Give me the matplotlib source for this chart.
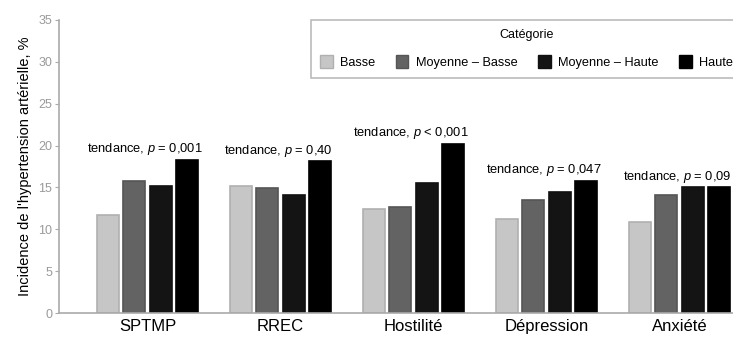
"""Incidence de l'hypertension artérielle par catégorie (barres groupées)."""

import numpy as np
import matplotlib
matplotlib.use('Agg')
import matplotlib.pyplot as plt
from matplotlib.patches import Patch

plt.rcParams['font.family'] = ['Liberation Sans', 'DejaVu Sans']
plt.rcParams['mathtext.fontset'] = 'custom'
plt.rcParams['mathtext.it'] = 'Liberation Sans:italic'
plt.rcParams['mathtext.rm'] = 'Liberation Sans'

GROUPS = ['SPTMP', 'RREC', 'Hostilité', 'Dépression', 'Anxiété']
CATEGORIES = ['Basse', 'Moyenne – Basse', 'Moyenne – Haute', 'Haute']
BASSE = [11.7, 15.2, 12.4, 11.2, 10.9]
MOY_BASSE = [15.8, 14.9, 12.7, 13.5, 14.1]
MOY_HAUTE = [15.2, 14.1, 15.5, 14.5, 15.0]
HAUTE = [18.3, 18.1, 20.2, 15.8, 15.0]
TRENDS = ['$p$ = 0,001', '$p$ = 0,40', '$p$ < 0,001', '$p$ = 0,047', '$p$ = 0,09']

COLORS = ['#c6c6c6', '#636363', '#141414', '#000000']
EDGES = ['#b0b0b0', '#555555', '#111111', '#000000']

fig = plt.figure(figsize=(7.33, 3.38), dpi=100)
ax = fig.add_axes([59 / 733, 25 / 338, 1 - 59 / 733, (313 - 20) / 338])

x = np.arange(len(GROUPS))
width = 0.165
step = 0.197
series = [BASSE, MOY_BASSE, MOY_HAUTE, HAUTE]
for k, (vals, c, e) in enumerate(zip(series, COLORS, EDGES)):
    ax.bar(x + (k - 1.5) * step, vals, width, color=c, edgecolor=e,
           linewidth=1.2, label=CATEGORIES[k], zorder=2)

for i, t in enumerate(TRENDS):
    top = max(s[i] for s in series)
    ax.annotate('tendance, ' + t, (x[i] - 0.02, top), xytext=(0, 2),
                textcoords='offset points', ha='center', va='bottom',
                fontsize=9.3)

ax.set_xlim(-0.665, 4.402)
ax.set_ylim(0, 35)
ax.set_yticks(range(0, 36, 5))
ax.set_xticks(x)
ax.set_xticklabels(GROUPS, fontsize=12)
ax.tick_params(axis='x', length=0, pad=4)
ax.tick_params(axis='y', length=3, color='#aaaaaa', labelcolor='#9a9a9a',
               labelsize=9, pad=2)
ax.spines[['top', 'right']].set_visible(False)
ax.spines['left'].set_color('#aaaaaa')
ax.spines['bottom'].set_color('#aaaaaa')
ax.spines['left'].set_linewidth(1.2)
ax.spines['bottom'].set_linewidth(1.2)
ax.set_ylabel("Incidence de l'hypertension artérielle, %", fontsize=10.5, labelpad=4)

handles = [Patch(facecolor=c, edgecolor=e) for c, e in zip(COLORS, EDGES)]
leg = fig.legend(handles, CATEGORIES, title='Catégorie', ncol=4,
                 loc='upper left', bbox_to_anchor=(311 / 733, 1 - 20 / 338),
                 borderaxespad=0, fontsize=9.2, title_fontsize=9,
                 frameon=True, fancybox=False, edgecolor='#aaaaaa',
                 handlelength=1.0, handleheight=1.15, handletextpad=0.55,
                 columnspacing=1.62, borderpad=0.7, labelspacing=1.1)
leg.get_frame().set_linewidth(1.2)

fig.savefig('out.png', dpi=100)
